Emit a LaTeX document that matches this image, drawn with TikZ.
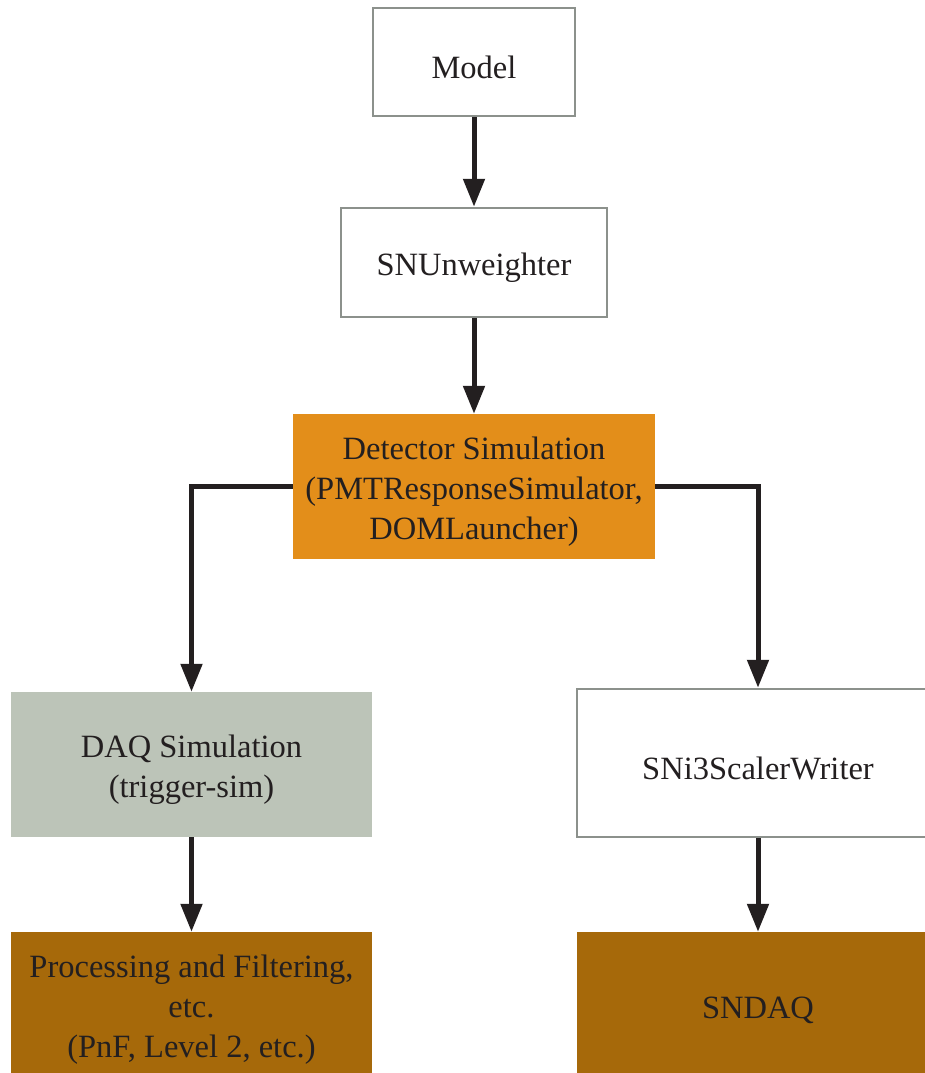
\documentclass[tikz,border=0pt]{standalone}
\usepackage{fontspec}
\setmainfont{Liberation Serif}
\usetikzlibrary{arrows.meta}
\definecolor{edgegray}{RGB}{140,145,140}
\definecolor{inkdark}{RGB}{35,31,32}
\definecolor{detorange}{RGB}{227,142,26}
\definecolor{daqgreen}{RGB}{188,196,184}
\definecolor{outbrown}{RGB}{166,105,10}
\tikzset{
  boxtext/.style={align=center, text=inkdark, inner sep=0pt, yshift=-5pt,
    font=\fontsize{32.5}{40}\selectfont},
  boxbase/.style={rectangle, inner sep=0pt},
  plainbox/.style={boxbase, draw=edgegray, line width=2.5pt, fill=white},
  filledbox/.style={boxbase, draw=none},
  flow/.style={draw=inkdark, line width=5pt,
    -{Triangle[width=21pt,length=28pt]}}
}
\begin{document}
\begin{tikzpicture}[x=1pt,y=-1pt]
  \useasboundingbox (0,0) rectangle (925,1073);
  \clip (0,0) rectangle (925,1073);
  % boxes
  \node[plainbox, minimum width=202pt, minimum height=108pt] (model) at (474,62) {};
  \node[plainbox, minimum width=266pt, minimum height=109pt] (unw) at (474,262.5) {};
  \node[filledbox, fill=detorange, minimum width=362pt, minimum height=145pt] (det) at (474,486.5) {};
  \node[filledbox, fill=daqgreen, minimum width=361pt, minimum height=145pt] (daq) at (191.5,764.5) {};
  \node[filledbox, fill=outbrown, minimum width=361pt, minimum height=146pt] (pnf) at (191.5,1005) {};
  \node[plainbox, minimum width=362pt, minimum height=148pt] (scaler) at (758,763) {};
  \node[filledbox, fill=outbrown, minimum width=362pt, minimum height=146pt] (sndaq) at (758,1005) {};
  % box texts
  \node[boxtext] (modeltxt) at (model) {Model};
  \node[boxtext] (unwtxt) at (unw) {SNUnweighter};
  \node[boxtext] (dettxt) at (det) {Detector Simulation\\(PMTResponseSimulator,\\DOMLauncher)};
  \node[boxtext] (daqtxt) at (daq) {DAQ Simulation\\(trigger-sim)};
  \node[boxtext] (pnftxt) at (pnf) {Processing and Filtering,\\etc.\\(PnF, Level 2, etc.)};
  \node[boxtext] (scalertxt) at (scaler) {SNi3ScalerWriter};
  \node[boxtext] (sndaqtxt) at (sndaq) {SNDAQ};
  % connectors
  \draw[flow] (model.south) -- (unw.north);
  \draw[flow] (unw.south) -- (det.north);
  \draw[flow] (det.west) -| (daq.north);
  \draw[flow] (det.east) -| (scaler.north);
  \draw[flow] (daq.south) -- (pnf.north);
  \draw[flow] (scaler.south) -- (sndaq.north);
\end{tikzpicture}
\end{document}
